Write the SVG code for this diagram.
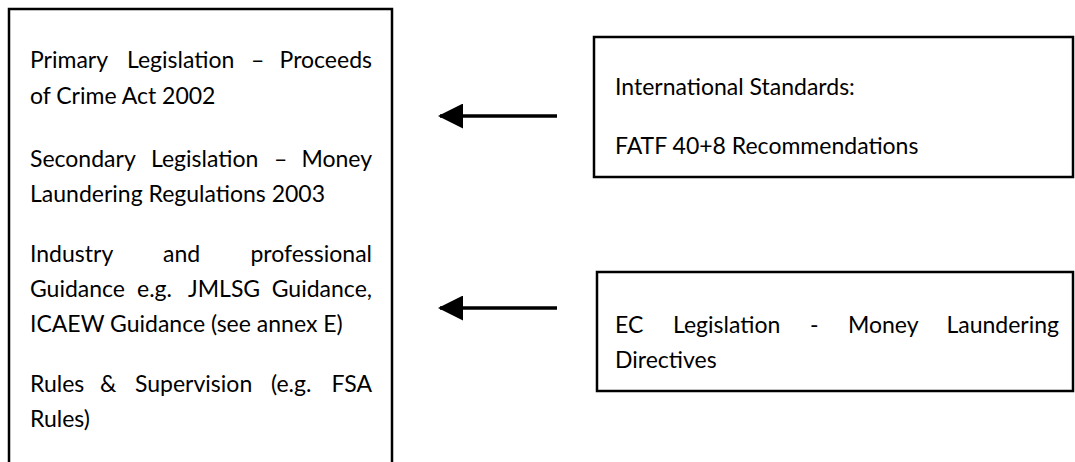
<svg xmlns="http://www.w3.org/2000/svg" width="1075" height="462" viewBox="0 0 1075 462">
<style>
.box{fill:#fff;stroke:#000;stroke-width:2.5}
.t{font-family:Lato,"Open Sans",sans-serif;font-size:23px;fill:#000}
.e{text-anchor:end}
.conn{stroke:#000;stroke-width:3.5;fill:none}
</style>
<defs>
<marker id="ah" markerWidth="25" markerHeight="25" refX="23" refY="12.5" orient="auto" markerUnits="userSpaceOnUse" viewBox="0 0 25 25">
<path d="M0,0 L25,12.5 L0,25 Z" fill="#000"/>
</marker>
</defs>
<rect width="1075" height="462" fill="#fff"/>
<g id="domestic">
<path class="box" d="M9,470 L9,9 L392,9 L392,470"/>
<text class="t" y="68"><tspan x="30">Primary</tspan><tspan x="127">Legislation</tspan><tspan x="251">–</tspan><tspan x="372" class="e">Proceeds</tspan></text>
<text class="t" x="30" y="104">of Crime Act 2002</text>
<text class="t" y="167"><tspan x="30">Secondary</tspan><tspan x="151">Legislation</tspan><tspan x="274">–</tspan><tspan x="372" class="e">Money</tspan></text>
<text class="t" x="30" y="202">Laundering Regulations 2003</text>
<text class="t" y="262"><tspan x="30">Industry</tspan><tspan x="163">and</tspan><tspan x="372" class="e">professional</tspan></text>
<text class="t" y="297"><tspan x="30">Guidance</tspan><tspan x="137">e.g.</tspan><tspan x="188">JMLSG</tspan><tspan x="372" class="e">Guidance,</tspan></text>
<text class="t" x="30" y="332">ICAEW Guidance (see annex E)</text>
<text class="t" y="392"><tspan x="30">Rules</tspan><tspan x="100">&amp;</tspan><tspan x="135">Supervision</tspan><tspan x="271">(e.g.</tspan><tspan x="372" class="e">FSA</tspan></text>
<text class="t" x="30" y="427">Rules)</text>
</g>
<g id="international">
<rect class="box" x="594" y="37" width="479" height="140"/>
<text class="t" x="615" y="95">International Standards:</text>
<text class="t" x="615" y="154">FATF 40+8 Recommendations</text>
</g>
<g id="ec">
<rect class="box" x="597" y="272" width="476" height="119"/>
<text class="t" y="333"><tspan x="615">EC</tspan><tspan x="673">Legislation</tspan><tspan x="810">-</tspan><tspan x="848">Money</tspan><tspan x="1059" class="e">Laundering</tspan></text>
<text class="t" x="615" y="368">Directives</text>
</g>
<g id="connectors">
<line class="conn" x1="557" y1="116" x2="440" y2="116" marker-end="url(#ah)"/>
<line class="conn" x1="557" y1="308" x2="440" y2="308" marker-end="url(#ah)"/>
</g>
</svg>
